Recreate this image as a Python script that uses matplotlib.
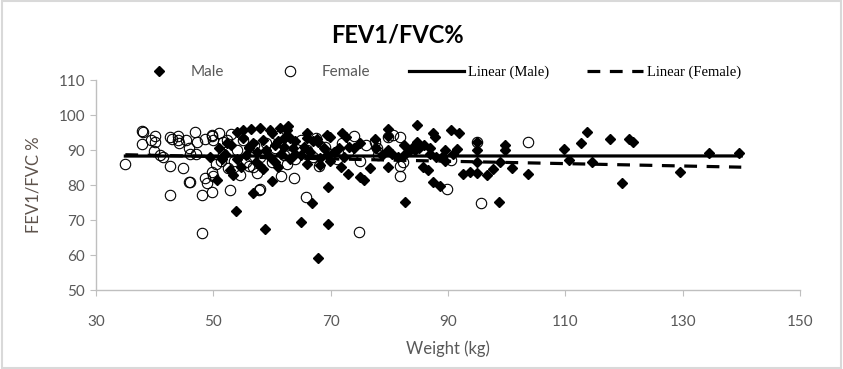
import numpy as np
import matplotlib
matplotlib.use("Agg")
import matplotlib.pyplot as plt
from matplotlib.patches import Rectangle

# Male (weight kg, FEV1/FVC %)
male_x = [49.5, 50.6, 51.0, 51.5, 52.0, 52.3, 52.8, 53.0, 53.4, 53.9, 54.0, 54.1, 54.8,
          55.0, 55.1, 55.5, 56.0, 56.0, 56.5, 56.7, 56.8, 57.2, 57.5, 58.0, 58.0, 58.5,
          58.5, 58.8, 59.0, 59.7, 59.7, 60.0, 60.0, 60.5, 60.5, 61.0, 61.1, 61.4, 61.5,
          62.0, 62.0, 62.5, 62.8, 63.0, 63.0, 63.5, 64.0, 64.0, 64.9, 65.0, 65.5, 65.9,
          66.0, 66.0, 66.5, 66.9, 67.0, 67.6, 67.9, 67.9, 68.2, 68.2, 68.8, 69.3, 69.4,
          69.6, 69.5, 69.9, 69.9, 70.5, 71.5, 71.8, 71.9, 72.3, 72.7, 72.9, 73.2, 73.9,
          75.0, 75.0, 75.6, 76.7, 77.6, 77.8, 78.7, 79.8, 79.8, 79.8, 79.8, 80.5, 81.5,
          82.5, 82.5, 82.7, 83.6, 84.4, 84.4, 84.7, 84.7, 85.0, 85.8, 85.9, 86.6, 86.9,
          87.0, 87.5, 87.5, 87.8, 88.0, 88.6, 88.9, 89.5, 89.5, 90.6, 90.8, 91.5, 91.8,
          92.6, 93.7, 94.9, 94.9, 94.9, 94.9, 96.6, 97.7, 98.7, 98.9, 99.7, 99.7, 100.9,
          103.7, 109.7, 110.7, 112.7, 113.7, 114.5, 117.6, 119.7, 120.9, 121.6, 129.5,
          134.5, 139.6]
male_y = [88.0, 81.4, 90.5, 87.5, 89.0, 92.0, 84.3, 91.4, 82.9, 72.6, 87.5, 95.2, 85.2,
          93.5, 95.7, 88.5, 90.5, 91.0, 95.9, 77.6, 92.0, 86.5, 89.5, 96.2, 85.5, 84.5,
          93.0, 67.3, 90.0, 95.7, 88.0, 81.1, 94.8, 91.5, 86.5, 92.5, 85.2, 96.2, 89.0,
          93.5, 91.0, 95.7, 96.9, 87.5, 93.5, 90.5, 92.5, 89.0, 69.5, 88.5, 91.0, 94.8,
          86.0, 93.5, 89.5, 75.0, 92.5, 93.1, 59.1, 92.4, 85.7, 87.6, 90.5, 94.3, 88.6,
          68.9, 79.5, 87.0, 93.8, 89.5, 90.5, 85.2, 94.8, 88.1, 93.8, 83.1, 91.0, 90.5,
          82.2, 91.9, 81.4, 84.8, 93.3, 90.5, 88.6, 95.9, 94.0, 90.0, 85.1, 89.0, 88.0,
          91.4, 88.6, 75.1, 90.0, 91.4, 90.0, 92.4, 97.3, 90.5, 85.2, 91.4, 84.3, 90.5,
          89.0, 94.8, 81.0, 93.8, 88.0, 79.7, 87.9, 90.0, 86.9, 95.7, 89.0, 90.4, 94.8,
          83.1, 83.8, 92.4, 90.0, 86.7, 83.5, 82.9, 84.6, 75.1, 86.5, 91.4, 90.0, 84.8,
          83.3, 90.3, 87.3, 91.9, 95.1, 86.6, 93.3, 80.5, 93.3, 92.2, 83.6,
          89.3, 89.1]

# Female (weight kg, FEV1/FVC %)
female_x = [34.9, 37.9, 37.8, 38.0, 39.4, 40.1, 40.1, 39.8, 40.9, 41.5, 42.6, 42.9, 44.0,
            44.0, 42.6, 44.9, 45.9, 42.6, 46.9, 44.2, 45.3, 45.9, 47.2, 48.6, 49.7, 49.9,
            46.0, 47.0, 48.6, 48.9, 50.0, 48.0, 49.7, 52.8, 51.6, 52.4, 51.6, 51.3, 55.5,
            56.7, 58.0, 48.0, 57.8, 65.8, 74.9, 63.8, 46.0, 49.7, 49.7, 56.8, 53.0, 54.0,
            55.0, 56.0, 57.0, 58.0, 59.0, 60.0, 60.5, 61.0, 62.0, 63.0, 64.0, 65.0, 66.0,
            67.0, 68.0, 69.0, 70.0, 71.0, 72.0, 73.0, 74.0, 75.0, 76.0, 78.0, 52.5, 54.5,
            50.5, 51.0, 53.5, 57.5, 61.5, 62.5, 67.5, 77.6, 77.9, 79.8, 80.7, 81.8, 81.8,
            81.8, 82.4, 89.8, 90.6, 94.9, 95.7, 103.7]
female_y = [86.0, 95.5, 91.7, 95.2, 92.9, 94.0, 92.4, 89.8, 88.6, 88.1, 93.8, 93.3, 94.1,
            92.9, 85.5, 85.0, 80.9, 77.1, 95.1, 91.9, 92.8, 90.7, 92.4, 93.1, 94.1, 92.9,
            89.0, 89.0, 82.0, 80.5, 82.7, 77.1, 78.1, 78.6, 92.4, 92.9, 89.0, 87.0, 86.5,
            88.0, 79.0, 66.2, 78.6, 76.7, 66.5, 81.9, 81.0, 83.8, 94.3, 85.2, 94.5, 90.0,
            93.0, 85.5, 91.5, 88.0, 92.0, 86.5, 90.5, 94.0, 88.5, 91.5, 87.5, 93.0, 90.0,
            88.0, 85.5, 91.0, 89.0, 87.5, 92.0, 89.5, 94.0, 87.0, 91.5, 88.5, 85.0, 83.0,
            86.0, 95.0, 87.0, 83.5, 82.5, 86.0, 93.5, 92.4, 90.5, 93.8, 94.3, 93.8, 82.7,
            85.5, 86.7, 78.8, 87.1, 92.4, 74.8, 92.2]

x_ticks = [30, 50, 70, 90, 110, 130, 150]
y_ticks = [50, 60, 70, 80, 90, 100, 110]
trend_range = [35, 140]

label_font = ["Lato", "DejaVu Sans"]
grey = "#595959"

fig = plt.figure(figsize=(8.43, 3.69), dpi=100)
fig.patches.append(Rectangle((0.002, 0.004), 0.996, 0.992, transform=fig.transFigure,
                             fill=False, edgecolor="#d9d9d9", linewidth=1.5))
ax = fig.add_axes([0.1139, 0.214, 0.835, 0.569])

ax.plot(male_x, male_y, linestyle="none", marker="D", markersize=5.0,
        color="black", label="Male", zorder=3)
ax.plot(female_x, female_y, linestyle="none", marker="o", markersize=7.5,
        markerfacecolor="none", markeredgecolor="black", markeredgewidth=0.8,
        label="Female", zorder=3)

# linear trend lines
xt = np.array(trend_range)
m_fit = np.polyfit(male_x, male_y, 1)
f_fit = np.polyfit(female_x, female_y, 1)
ax.plot(xt, np.polyval(m_fit, xt), color="black", linewidth=2.3,
        label="Linear (Male)", zorder=4)
ax.plot(xt, np.polyval(f_fit, xt), color="black", linewidth=2.3,
        dashes=(4, 3), label="Linear (Female)", zorder=4)

ax.set_xlim(30, 150)
ax.set_ylim(50, 110)
ax.set_xticks(x_ticks)
ax.set_yticks(y_ticks)
for s in ["top", "right"]:
    ax.spines[s].set_visible(False)
for s in ["left", "bottom"]:
    ax.spines[s].set_color("#bfbfbf")
    ax.spines[s].set_linewidth(1.0)
ax.tick_params(axis="both", direction="out", length=4, color="#bfbfbf",
               labelcolor=grey, labelsize=11, pad=4)
ax.tick_params(axis="x", pad=14)
for t in ax.get_xticklabels() + ax.get_yticklabels():
    t.set_fontfamily(label_font)

ax.set_xlabel("Weight (kg)", fontsize=12, color=grey, family=label_font, labelpad=8)
ax.set_ylabel("FEV1/FVC %", fontsize=12, color="#5e534c", family=label_font, labelpad=12)

fig.text(0.472, 0.905, "FEV1/FVC%", ha="center", va="center", fontsize=17,
         fontweight="bold", family=label_font)

leg = fig.legend(loc="center", bbox_to_anchor=(0.5175, 0.805), ncol=4, frameon=False,
                 handlelength=3.8, handletextpad=0.3, columnspacing=2.6,
                 fontsize=10.5)
for i, t in enumerate(leg.get_texts()):
    if i < 2:
        t.set_fontfamily(label_font)
        t.set_color(grey)
        t.set_fontsize(11)
    else:
        t.set_fontfamily(["Liberation Serif", "DejaVu Serif"])
        t.set_color("black")

fig.savefig("out.png", dpi=100)
